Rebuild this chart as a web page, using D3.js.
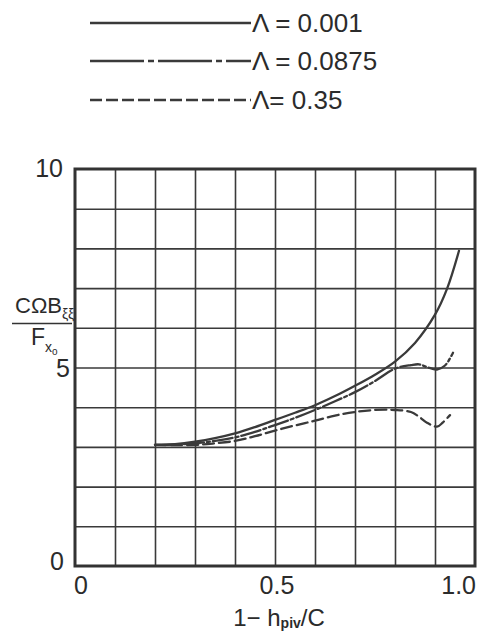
<!DOCTYPE html>
<html>
<head>
<meta charset="utf-8">
<script src="https://cdn.jsdelivr.net/npm/d3@7"></script>
<style>
  html, body { margin: 0; padding: 0; background: #ffffff; }
  svg { display: block; }
  text { font-family: "Liberation Sans", Arial, sans-serif; fill: #2b2b2b; }
</style>
</head>
<body>
<svg id="chart" width="481" height="631"></svg>
<script>
// ---- data ----
const seriesNames = ["Λ = 0.001", "Λ = 0.0875", "Λ= 0.35"];

const solidX = [0.2, 0.25, 0.3, 0.35, 0.4, 0.45, 0.5, 0.55, 0.6, 0.65, 0.7, 0.75, 0.8, 0.85, 0.9, 0.93, 0.96];
const solidY = [3.05, 3.07, 3.13, 3.22, 3.34, 3.50, 3.68, 3.86, 4.05, 4.28, 4.54, 4.82, 5.15, 5.62, 6.33, 6.98, 7.94];

const dashDotX = [0.2, 0.25, 0.3, 0.35, 0.4, 0.45, 0.5, 0.55, 0.6, 0.65, 0.7, 0.75, 0.8, 0.84, 0.86, 0.88, 0.905, 0.925, 0.945];
const dashDotY = [3.05, 3.06, 3.09, 3.15, 3.24, 3.38, 3.55, 3.73, 3.93, 4.15, 4.38, 4.66, 4.97, 5.06, 5.08, 5.01, 4.95, 5.05, 5.37];

const dashedX = [0.2, 0.3, 0.35, 0.4, 0.45, 0.5, 0.55, 0.6, 0.65, 0.7, 0.75, 0.8, 0.84, 0.86, 0.88, 0.905, 0.92, 0.9375];
const dashedY = [3.05, 3.05, 3.09, 3.15, 3.27, 3.41, 3.54, 3.66, 3.79, 3.88, 3.93, 3.93, 3.88, 3.76, 3.61, 3.51, 3.62, 3.80];

const xTickValues = [0, 0.5, 1.0];
const xTickLabels = ["0", "0.5", "1.0"];
const yTickValues = [0, 5, 10];
const yTickLabels = ["0", "5", "10"];

// ---- layout ----
const svg = d3.select("#chart");
const pLeft = 75, pRight = 475, pTop = 169, pBottom = 566;
const x = d3.scaleLinear().domain([0, 1]).range([pLeft, pRight]);
const y = d3.scaleLinear().domain([0, 10]).range([pBottom, pTop]);
const ink = "#333";

// grid
const gx = svg.append("g").attr("transform", `translate(0,${pBottom})`)
  .call(d3.axisBottom(x).tickValues(d3.range(1, 10).map(i => i / 10)).tickSize(-(pBottom - pTop)).tickFormat(""));
const gy = svg.append("g").attr("transform", `translate(${pLeft},0)`)
  .call(d3.axisLeft(y).tickValues(d3.range(1, 10)).tickSize(-(pRight - pLeft)).tickFormat(""));
[gx, gy].forEach(g => {
  g.select(".domain").remove();
  g.selectAll(".tick line").attr("stroke", "#3a3a3a").attr("stroke-width", 1.6);
});

// frame
svg.append("rect").attr("x", pLeft).attr("y", pTop)
  .attr("width", pRight - pLeft).attr("height", pBottom - pTop)
  .attr("fill", "none").attr("stroke", "#333").attr("stroke-width", 3);

// tick labels
svg.selectAll(".xlab").data(xTickValues).enter().append("text")
  .attr("x", (d, i) => i === 0 ? x(d) - 1 : i === 2 ? x(d) + 1 : x(d) + 2)
  .attr("y", 594)
  .attr("text-anchor", (d, i) => i === 0 ? "start" : i === 2 ? "end" : "middle")
  .attr("font-size", 25)
  .text((d, i) => xTickLabels[i]);

svg.selectAll(".ylab").data(yTickValues).enter().append("text")
  .attr("x", (d, i) => i === 1 ? 70 : i === 2 ? 63 : 64)
  .attr("y", d => y(d) + (d === 0 ? -5 : d === 10 ? -1 : 0))
  .attr("dy", "0.36em")
  .attr("text-anchor", "end")
  .attr("font-size", 25)
  .text((d, i) => yTickLabels[i]);

// curves
const line = d3.line().x(d => x(d[0])).y(d => y(d[1])).curve(d3.curveCatmullRom.alpha(0.5));
const curves = [
  { xs: solidX, ys: solidY, dash: null },
  { xs: dashDotX, ys: dashDotY, dash: "20,3,3,3" },
  { xs: dashedX, ys: dashedY, dash: "11,5" }
];
curves.forEach(c => {
  svg.append("path")
    .datum(c.xs.map((v, i) => [v, c.ys[i]]))
    .attr("d", line)
    .attr("fill", "none")
    .attr("stroke", "#3a3a3a")
    .attr("stroke-width", 2.3)
    .attr("stroke-linecap", "round")
    .attr("stroke-dasharray", c.dash);
});

// legend
const legendY = [23, 61, 100];
const legendDash = [null, "54,4,6,4", "12,4"];
seriesNames.forEach((name, i) => {
  svg.append("line").attr("x1", 90).attr("x2", 251)
    .attr("y1", legendY[i]).attr("y2", legendY[i])
    .attr("stroke", "#3a3a3a").attr("stroke-width", 2.3)
    .attr("stroke-dasharray", legendDash[i]);
  svg.append("text").attr("x", 252).attr("y", legendY[i] + 9)
    .attr("font-size", 26).text(name);
});

// y axis title (fraction)
const num = svg.append("text").attr("x", 15).attr("y", 313).attr("font-size", 22);
num.append("tspan").text("CΩB");
num.append("tspan").attr("font-size", 14).attr("dy", 6).text("ξξ");
svg.append("line").attr("x1", 12).attr("x2", 72).attr("y1", 323.5).attr("y2", 323.5)
  .attr("stroke", ink).attr("stroke-width", 1.6);
const den = svg.append("text").attr("x", 31).attr("y", 345).attr("font-size", 23);
den.append("tspan").text("F");
den.append("tspan").attr("font-size", 14).attr("dy", 7).text("x");
den.append("tspan").attr("font-size", 10).attr("dy", 3).text("o");

// x axis title
const xt = svg.append("text").attr("x", 279).attr("y", 626).attr("text-anchor", "middle").attr("font-size", 24);
xt.append("tspan").text("1− h");
xt.append("tspan").attr("font-size", 14).attr("font-weight", "bold").attr("dy", 2).text("piv");
xt.append("tspan").attr("dy", -2).text("/C");
</script>
</body>
</html>
